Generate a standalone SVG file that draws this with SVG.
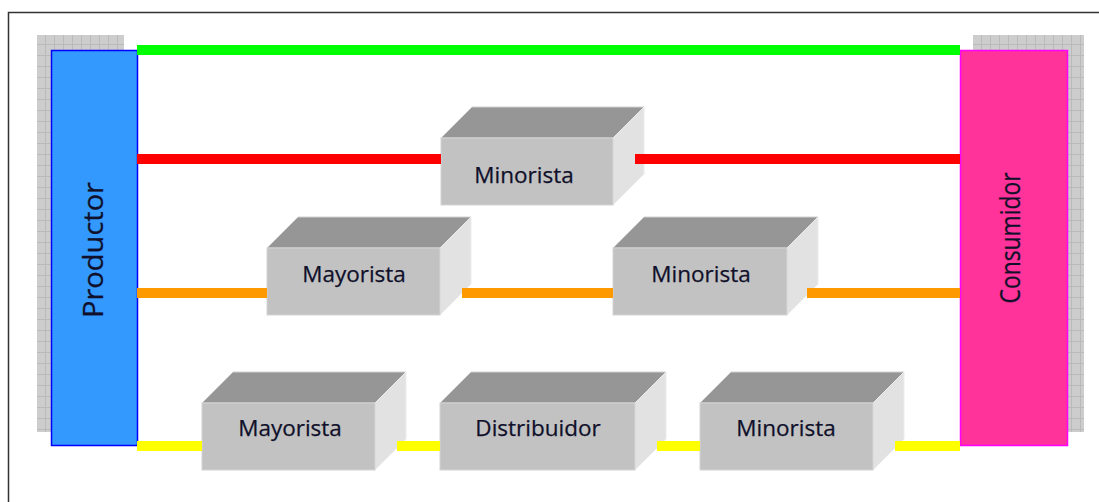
<svg xmlns="http://www.w3.org/2000/svg" width="1099" height="502" viewBox="0 0 1099 502">
  <style>
    .front { fill: #c2c2c2; stroke: #d4d4d4; stroke-width: 1; }
    .top { fill: #969696; stroke: #d0d0d0; stroke-width: 1; }
    .side { fill: #e2e2e2; stroke: #ececec; stroke-width: 1; }
    .lbl { font-family: "Open Sans", "Noto Sans", sans-serif; font-size: 22.5px; fill: #10102a; text-anchor: middle; stroke: #10102a; stroke-width: 0.25; }
    .vlbl { font-family: "Open Sans", "Noto Sans", sans-serif; font-size: 27px; fill: #10102a; text-anchor: middle; stroke: #10102a; stroke-width: 0.25; }
    .ln { stroke-width: 10; fill: none; }
  </style>
  <defs>
    <pattern id="grid" width="9" height="11" patternUnits="userSpaceOnUse">
      <rect width="9" height="11" fill="#cdcdcd"/>
      <path d="M0 0.5H9M0.5 0V11" stroke="#bababa" stroke-width="1"/>
    </pattern>
  </defs>
  <rect width="1099" height="502" fill="#ffffff"/>
  <path d="M8.5 502V12.5H1099" fill="none" stroke="#333333" stroke-width="1.5"/>

  <g id="productor">
    <rect x="37" y="35" width="87" height="397" fill="url(#grid)"/>
    <rect x="51.5" y="50.5" width="86" height="395" fill="#3399ff" stroke="#0000ff" stroke-width="1.5"/>
    <text class="vlbl" transform="translate(103,250) rotate(-90)" textLength="136" lengthAdjust="spacingAndGlyphs">Productor</text>
  </g>

  <g id="consumidor">
    <rect x="973" y="35" width="111" height="397" fill="url(#grid)"/>
    <rect x="960.5" y="50.5" width="107" height="395" fill="#ff3399" stroke="#ff00ff" stroke-width="1.5"/>
    <text class="vlbl" transform="translate(1020,238) rotate(-90)" textLength="131" lengthAdjust="spacingAndGlyphs">Consumidor</text>
  </g>

  <g id="minorista1">
    <polygon class="top" points="441,138 472,107 644,107 613,138"/>
    <polygon class="side" points="613,138 644,107 644,174 613,205"/>
    <rect class="front" x="441" y="138" width="172" height="67"/>
    <text class="lbl" x="524" y="183">Minorista</text>
  </g>

  <g id="mayorista1">
    <polygon class="top" points="267,248 298,217 471,217 440,248"/>
    <polygon class="side" points="440,248 471,217 471,284 440,315"/>
    <rect class="front" x="267" y="248" width="173" height="67"/>
    <text class="lbl" x="354" y="282">Mayorista</text>
  </g>

  <g id="minorista2">
    <polygon class="top" points="613,248 644,217 818,217 787,248"/>
    <polygon class="side" points="787,248 818,217 818,284 787,315"/>
    <rect class="front" x="613" y="248" width="174" height="67"/>
    <text class="lbl" x="701" y="282">Minorista</text>
  </g>

  <g id="mayorista2">
    <polygon class="top" points="202,403 233,372 406,372 375,403"/>
    <polygon class="side" points="375,403 406,372 406,439 375,470"/>
    <rect class="front" x="202" y="403" width="173" height="67"/>
    <text class="lbl" x="290" y="436">Mayorista</text>
  </g>

  <g id="distribuidor">
    <polygon class="top" points="440,403 471,372 666,372 635,403"/>
    <polygon class="side" points="635,403 666,372 666,439 635,470"/>
    <rect class="front" x="440" y="403" width="195" height="67"/>
    <text class="lbl" x="538" y="436">Distribuidor</text>
  </g>

  <g id="minorista3">
    <polygon class="top" points="700,403 731,372 904,372 873,403"/>
    <polygon class="side" points="873,403 904,372 904,439 873,470"/>
    <rect class="front" x="700" y="403" width="173" height="67"/>
    <text class="lbl" x="786" y="436">Minorista</text>
  </g>

  <g id="connectors">
    <path class="ln" stroke="#00ff00" d="M137 50H960"/>
    <path class="ln" stroke="#ff0000" d="M137 159H441M635 159H960"/>
    <path class="ln" stroke="#ff9900" d="M137 293H267M462 293H613M807 293H960"/>
    <path class="ln" stroke="#ffff00" d="M137 446H202M397 446H440M657 446H700M895 446H960"/>
  </g>
</svg>
